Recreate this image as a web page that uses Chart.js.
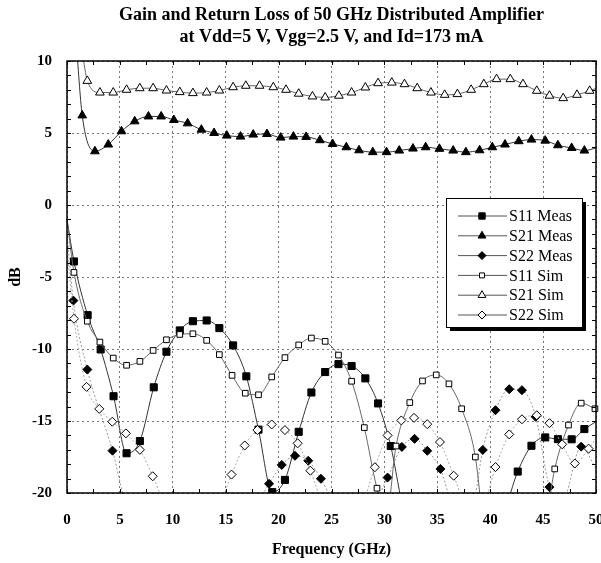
<!DOCTYPE html>
<html>
<head>
<meta charset="utf-8">
<script src="https://cdn.jsdelivr.net/npm/chart.js@4.4.1/dist/chart.umd.min.js"></script>
<style>
  html, body { margin: 0; padding: 0; background: #fff; }
  #wrap { width: 601px; height: 563px; }
</style>
</head>
<body>
<div id="wrap"><canvas id="grafico" width="601" height="563"></canvas></div>
<script>
var titulo = ['Gain and Return Loss of 50 GHz Distributed Amplifier', 'at Vdd=5 V, Vgg=2.5 V, and Id=173 mA'];
var nomes  = ['S11 Meas', 'S21 Meas', 'S22 Meas', 'S11 Sim', 'S21 Sim', 'S22 Sim'];

// valores (GHz, dB) - pontos fora da escala so guiam a curva
var s11MeasF  = [0, 0.66, 1.95, 3.18, 4.4, 5.63, 6.89, 8.2, 9.4, 10.66, 11.9, 13.2, 14.4, 15.7, 16.95, 18.1, 19.4, 20.6, 21.9, 23.1, 24.4, 25.66, 26.9, 28.2, 29.4, 30.6, 31.9, 36.5, 41.3, 42.6, 43.9, 45.2, 46.4, 47.7, 48.9, 50];
var s11MeasDb = [-1.0, -3.92, -7.65, -10.03, -13.28, -17.24, -16.39, -12.66, -10.19, -8.71, -8.07, -8.02, -8.55, -9.75, -11.9, -15.6, -19.94, -19.09, -15.75, -13.02, -11.6, -11.05, -11.18, -12.04, -13.78, -16.74, -21.4, -26, -21.3, -18.51, -16.72, -16.14, -16.26, -16.27, -15.56, -15.05];

var s21MeasF  = [0.85, 1.44, 2.64, 3.9, 5.15, 6.4, 7.7, 8.9, 10.1, 11.4, 12.7, 13.9, 15.1, 16.4, 17.6, 18.9, 20.2, 21.4, 22.6, 23.9, 25.1, 26.4, 27.6, 28.9, 30.2, 31.4, 32.7, 33.9, 35.2, 36.5, 37.7, 39.0, 40.2, 41.4, 42.7, 43.9, 45.2, 46.4, 47.7, 48.9, 50];
var s21MeasDb = [11.5, 6.22, 3.73, 4.2, 5.12, 5.81, 6.15, 6.15, 5.9, 5.67, 5.23, 5.0, 4.82, 4.75, 4.89, 4.93, 4.68, 4.75, 4.73, 4.5, 4.24, 4.01, 3.8, 3.67, 3.67, 3.78, 3.92, 4.01, 3.9, 3.78, 3.67, 3.8, 4.01, 4.2, 4.43, 4.54, 4.47, 4.15, 3.96, 3.78, 3.96];

var s22MeasF  = [0, 0.6, 1.92, 4.3, 5.6, 12, 17.9, 19.1, 20.3, 21.55, 22.8, 24.0, 25.2, 27.2, 29.1, 30.3, 31.65, 32.85, 34.05, 35.3, 36.5, 37.5, 38.4, 39.3, 40.5, 41.8, 43.0, 44.3, 45.6, 46.8, 48.6, 50];
var s22MeasDb = [-2.0, -6.64, -11.43, -17.06, -20.8, -26, -20.8, -19.36, -18.05, -17.42, -17.76, -19.01, -20.8, -24, -20.8, -18.93, -16.8, -16.24, -17.07, -18.33, -21.2, -23, -21, -17.01, -14.25, -12.79, -12.86, -14.71, -19.59, -20.6, -16.78, -18.3];

var s11SimF  = [0, 0.66, 1.92, 3.11, 4.37, 5.63, 6.89, 8.14, 9.4, 10.66, 11.9, 13.2, 14.4, 15.6, 16.85, 18.1, 19.35, 20.6, 21.9, 23.1, 24.4, 25.66, 26.9, 28.1, 29.3, 30.2, 31.1, 32.4, 33.6, 34.9, 36.1, 37.3, 38.6, 39.4, 42.3, 45.3, 46.1, 47.4, 48.6, 49.9];
var s11SimDb = [-1.0, -4.68, -8.07, -9.52, -10.63, -11.13, -10.86, -10.1, -9.36, -8.99, -8.94, -9.4, -10.39, -11.83, -13.07, -13.18, -11.94, -10.6, -9.72, -9.24, -9.47, -10.42, -12.24, -15.46, -19.67, -21.5, -16.74, -13.72, -12.22, -11.8, -12.42, -14.15, -17.5, -22.3, -28, -21.6, -18.33, -15.28, -13.76, -14.15];

var s21SimF  = [1.45, 1.92, 3.11, 4.37, 5.63, 6.88, 8.14, 9.4, 10.66, 11.9, 13.2, 14.4, 15.7, 16.9, 18.2, 19.5, 20.7, 21.9, 23.2, 24.4, 25.7, 26.9, 28.2, 29.4, 30.7, 31.9, 33.1, 34.4, 35.7, 36.9, 38.2, 39.4, 40.6, 41.9, 43.1, 44.4, 45.6, 46.9, 48.2, 49.4, 50];
var s21SimDb = [10.6, 8.62, 7.81, 7.81, 8.0, 8.11, 8.11, 7.95, 7.84, 7.77, 7.81, 7.95, 8.18, 8.28, 8.28, 8.18, 8.0, 7.73, 7.54, 7.47, 7.59, 7.81, 8.16, 8.46, 8.5, 8.39, 8.11, 7.81, 7.65, 7.7, 8.0, 8.39, 8.74, 8.74, 8.39, 7.93, 7.59, 7.42, 7.65, 7.93, 8.1];

var s22SimF  = [0, 0.66, 1.85, 3.05, 4.28, 5.57, 6.89, 8.1, 9.3, 11.8, 14.4, 15.55, 16.8, 18.0, 19.35, 20.6, 21.8, 23.0, 24.2, 26.0, 27.9, 29.1, 30.3, 31.6, 32.8, 34.05, 35.25, 36.55, 37.8, 38.5, 39.3, 40.5, 41.8, 43.0, 44.4, 45.6, 46.8, 48.0, 49.3, 50];
var s22SimDb = [-3.0, -7.9, -12.63, -14.16, -15.05, -15.86, -17.0, -18.84, -21, -26, -21, -18.72, -16.7, -15.63, -15.24, -15.63, -16.55, -18.45, -21, -25, -21, -18.21, -16.0, -14.96, -14.78, -15.22, -16.46, -18.8, -21.2, -22, -21.2, -18.2, -15.93, -14.88, -14.6, -15.15, -16.62, -17.95, -16.92, -16.2];

var xTicks = [0, 5, 10, 15, 20, 25, 30, 35, 40, 45, 50];
var yTicks = [-20, -15, -10, -5, 0, 5, 10];

var fonte = 'Liberation Serif, Times New Roman, serif';

function pares(f, db) {
    return f.map(function(v, i) { return { x: v, y: db[i] }; });
}

// sem marcador nas pontas do eixo e fora da escala
function raio(r) {
    return function(ctx) {
        var p = ctx.raw;
        if (!p || p.x <= 0 || p.x >= 50 || p.y < -20 || p.y > 10) return 0;
        return r;
    };
}

var estilos = [
    { style: 'rect',     fill: '#000', line: '#333', dash: [],     r: 5 },
    { style: 'triangle', fill: '#000', line: '#333', dash: [],     r: 5 },
    { style: 'rectRot',  fill: '#000', line: '#999', dash: [2, 2], r: 4.5 },
    { style: 'rect',     fill: '#fff', line: '#666', dash: [],     r: 4 },
    { style: 'triangle', fill: '#fff', line: '#666', dash: [],     r: 5 },
    { style: 'rectRot',  fill: '#fff', line: '#aaa', dash: [2, 2], r: 4.5 }
];

var series = [
    pares(s11MeasF, s11MeasDb),
    pares(s21MeasF, s21MeasDb),
    pares(s22MeasF, s22MeasDb),
    pares(s11SimF, s11SimDb),
    pares(s21SimF, s21SimDb),
    pares(s22SimF, s22SimDb)
];

var datasets = series.map(function(d, i) {
    var e = estilos[i];
    return {
        label: nomes[i],
        data: d,
        showLine: true,
        cubicInterpolationMode: 'monotone',
        borderColor: e.line,
        borderWidth: 1,
        borderDash: e.dash,
        pointStyle: e.style,
        pointRadius: raio(e.r),
        pointHoverRadius: raio(e.r),
        pointBackgroundColor: e.fill,
        pointBorderColor: '#000',
        pointBorderWidth: 1,
        clip: { left: 6, right: 6, top: 0, bottom: 0 },
        order: 6 - i
    };
});

// moldura, ticks menores e legenda
var moldura = {
    id: 'moldura',
    afterDraw: function(chart) {
        var ctx = chart.ctx, a = chart.chartArea;
        var sx = chart.scales.x, sy = chart.scales.y;
        ctx.save();
        ctx.strokeStyle = '#000';
        ctx.lineWidth = 1;
        ctx.setLineDash([]);
        ctx.beginPath();
        for (var v = 0; v <= 50; v += 2.5) {
            var px = Math.round(sx.getPixelForValue(v)) + 0.5;
            ctx.moveTo(px, a.bottom); ctx.lineTo(px, a.bottom - 4);
            ctx.moveTo(px, a.top); ctx.lineTo(px, a.top + 4);
        }
        for (var w = -20; w <= 10; w += 1) {
            var py = Math.round(sy.getPixelForValue(w)) + 0.5;
            ctx.moveTo(a.left, py); ctx.lineTo(a.left + 4, py);
            ctx.moveTo(a.right, py); ctx.lineTo(a.right - 4, py);
        }
        ctx.stroke();
        ctx.lineWidth = 1.5;
        ctx.strokeRect(a.left, a.top, a.right - a.left, a.bottom - a.top);

        // legenda
        var bx = 446, by = 198, bw = 136, bh = 129;
        ctx.fillStyle = '#000';
        ctx.fillRect(bx + 4, by + 4, bw, bh);
        ctx.fillStyle = '#fff';
        ctx.fillRect(bx, by, bw, bh);
        ctx.lineWidth = 1;
        ctx.strokeRect(bx + 0.5, by + 0.5, bw, bh);
        ctx.font = '16px ' + fonte;
        ctx.textBaseline = 'middle';
        for (var i = 0; i < nomes.length; i++) {
            var e = estilos[i];
            var ly = by + 18 + i * 19.8;
            ctx.strokeStyle = '#555';
            ctx.lineWidth = 1;
            ctx.beginPath();
            ctx.moveTo(458, ly); ctx.lineTo(507, ly);
            ctx.stroke();
            ctx.fillStyle = e.fill;
            ctx.strokeStyle = '#000';
            Chart.helpers.drawPoint(ctx, { pointStyle: e.style, radius: e.r - 0.5, rotation: 0, borderWidth: 1 }, 482, ly);
            ctx.fillStyle = '#000';
            ctx.fillText(nomes[i], 509, ly + 1);
        }
        ctx.restore();
    }
};

var ctx = document.getElementById('grafico').getContext('2d');
var grafico = new Chart(ctx, {
    type: 'scatter',
    data: { datasets: datasets },
    options: {
        responsive: false,
        animation: false,
        events: [],
        layout: { padding: { left: 0, right: 5, top: 0, bottom: 0 } },
        plugins: {
            legend: { display: false },
            tooltip: { enabled: false },
            title: {
                display: true,
                fullSize: false,
                text: titulo,
                color: '#000',
                font: { family: fonte, size: 18, weight: 'bold', lineHeight: 1.25 },
                padding: { top: 4, bottom: 12 }
            }
        },
        scales: {
            x: {
                type: 'linear',
                min: 0, max: 50,
                afterBuildTicks: function(s) { s.ticks = xTicks.map(function(v) { return { value: v }; }); },
                afterFit: function(s) { s.height = 70; s.paddingLeft = 0; s.paddingRight = 0; },
                grid: { color: '#777', lineWidth: 1, drawTicks: false },
                border: { display: false, dash: [2, 3] },
                ticks: { color: '#000', padding: 18, maxRotation: 0, font: { family: fonte, size: 15, weight: 'bold' } },
                title: { display: true, text: 'Frequency (GHz)', color: '#000', padding: { top: 0, bottom: 4 }, font: { family: fonte, size: 16, weight: 'bold' } }
            },
            y: {
                type: 'linear',
                min: -20, max: 10,
                afterBuildTicks: function(s) { s.ticks = yTicks.map(function(v) { return { value: v }; }); },
                afterFit: function(s) { s.width = 67; },
                grid: { color: '#777', lineWidth: 1, drawTicks: false },
                border: { display: false, dash: [2, 3] },
                ticks: { color: '#000', padding: 15, font: { family: fonte, size: 15, weight: 'bold' } },
                title: { display: true, text: 'dB', color: '#000', padding: { top: 6, bottom: 0 }, font: { family: fonte, size: 16, weight: 'bold' } }
            }
        }
    },
    plugins: [moldura]
});
</script>
</body>
</html>
